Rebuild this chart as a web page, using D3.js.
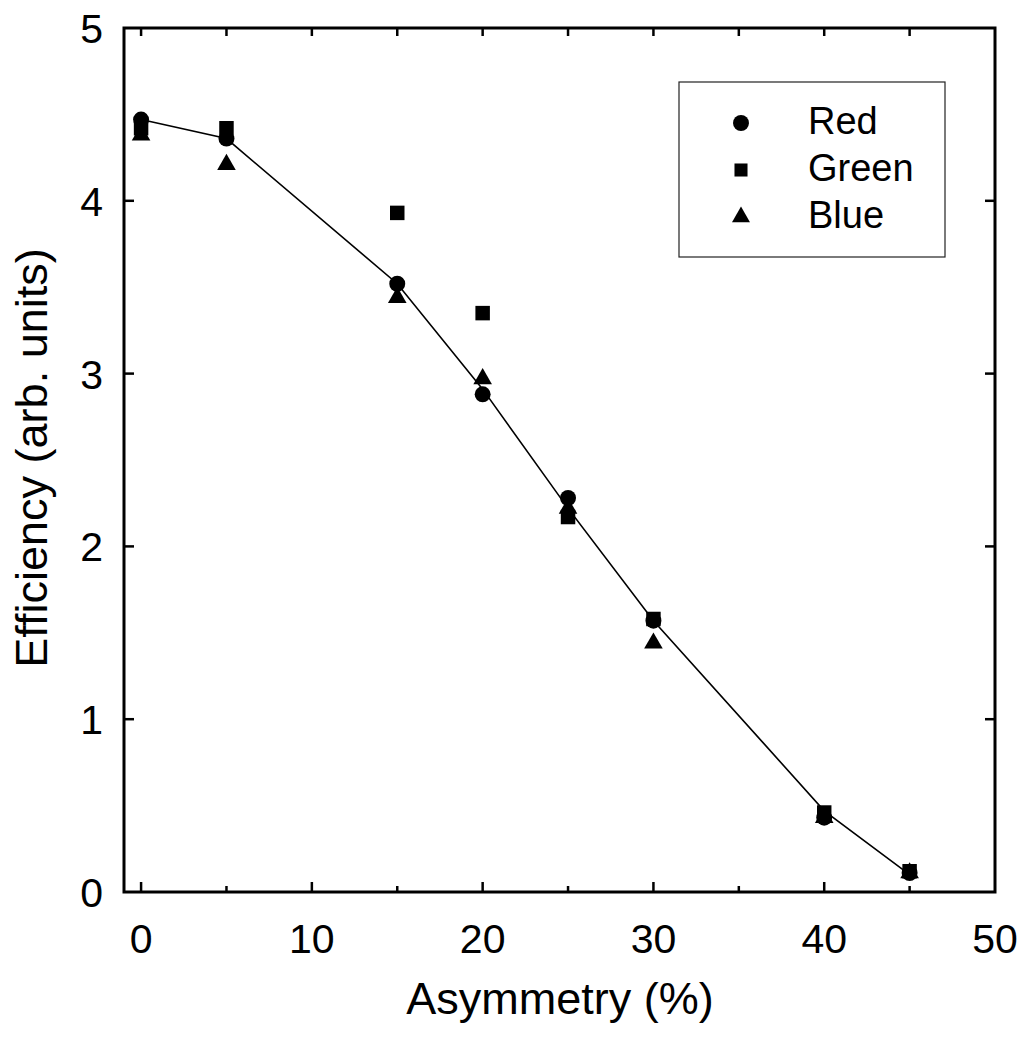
<!DOCTYPE html>
<html>
<head>
<meta charset="utf-8">
<script src="https://cdn.jsdelivr.net/npm/d3@7"></script>
<style>
  body { margin: 0; background: #fff; }
  svg { display: block; font-family: "Liberation Sans", Arial, sans-serif; }
</style>
</head>
<body>
<script>
// data
const asymmetry = [0, 5, 15, 20, 25, 30, 40, 45];
const red   = [4.47, 4.36, 3.52, 2.88, 2.28, 1.57, 0.43, 0.11];
const green = [4.42, 4.42, 3.93, 3.35, 2.17, 1.58, 0.46, 0.12];
const blue  = [4.38, 4.21, 3.44, 2.97, 2.22, 1.44, 0.43, 0.11];
const fitLine = [4.47, 4.36, 3.52, 2.91, 2.22, 1.57, 0.47, 0.10];
const seriesNames = ["Red", "Green", "Blue"];
const xTicks = [0, 10, 20, 30, 40, 50];
const xMinorTicks = [5, 15, 25, 35, 45];
const yTicks = [0, 1, 2, 3, 4, 5];

const width = 1024, height = 1041;
const margin = {top: 28, right: 29, bottom: 149, left: 124};

const svg = d3.select("body").append("svg")
    .attr("width", width)
    .attr("height", height);

const x = d3.scaleLinear().domain([-1, 50]).range([margin.left, width - margin.right]);
const y = d3.scaleLinear().domain([0, 5]).range([height - margin.bottom, margin.top]);

const x0 = x.range()[0], x1 = x.range()[1];
const y0 = y.range()[0], y1 = y.range()[1];

// ticks (inside, on all four sides)
const ticks = svg.append("g").attr("stroke", "#000").attr("stroke-width", 2.5);
xTicks.filter(d => d < 50).forEach(d => {
  ticks.append("line").attr("x1", x(d)).attr("x2", x(d)).attr("y1", y0).attr("y2", y0 - 10);
  ticks.append("line").attr("x1", x(d)).attr("x2", x(d)).attr("y1", y1).attr("y2", y1 + 8);
});
xMinorTicks.forEach(d => {
  ticks.append("line").attr("x1", x(d)).attr("x2", x(d)).attr("y1", y0).attr("y2", y0 - 6);
  ticks.append("line").attr("x1", x(d)).attr("x2", x(d)).attr("y1", y1).attr("y2", y1 + 8);
});
yTicks.filter(d => d > 0 && d < 5).forEach(d => {
  ticks.append("line").attr("x1", x0).attr("x2", x0 + 10).attr("y1", y(d)).attr("y2", y(d));
  ticks.append("line").attr("x1", x1).attr("x2", x1 - 10).attr("y1", y(d)).attr("y2", y(d));
});

// frame
svg.append("rect")
    .attr("x", x0).attr("y", y1)
    .attr("width", x1 - x0).attr("height", y0 - y1)
    .attr("fill", "none").attr("stroke", "#000").attr("stroke-width", 3);

// tick labels
svg.append("g").selectAll("text").data(xTicks).join("text")
    .attr("x", d => x(d)).attr("y", y0 + 61)
    .attr("text-anchor", "middle").attr("font-size", 41)
    .text(d => d);
svg.append("g").selectAll("text").data(yTicks).join("text")
    .attr("x", x0 - 21).attr("y", d => y(d) + 15)
    .attr("text-anchor", "end").attr("font-size", 41)
    .text(d => d);

// axis titles
svg.append("text")
    .attr("x", 560).attr("y", 1014)
    .attr("text-anchor", "middle").attr("font-size", 45)
    .text("Asymmetry (%)");
svg.append("text")
    .attr("transform", "translate(47,458) rotate(-90)")
    .attr("text-anchor", "middle").attr("font-size", 45)
    .text("Efficiency (arb. units)");

// line
const line = d3.line().x((d, i) => x(asymmetry[i])).y(d => y(d));
svg.append("path")
    .datum(fitLine)
    .attr("d", line)
    .attr("fill", "none").attr("stroke", "#000").attr("stroke-width", 1.6);

// markers
const symbols = [d3.symbolCircle, d3.symbolSquare, d3.symbolTriangle];
const sizes = [200, 210, 150];
const allSeries = [red, green, blue];
allSeries.forEach((vals, s) => {
  const sym = d3.symbol().type(symbols[s]).size(sizes[s]);
  svg.append("g").selectAll("path").data(vals).join("path")
      .attr("transform", (d, i) => `translate(${x(asymmetry[i])},${y(d)})`)
      .attr("d", sym)
      .attr("fill", "#000");
});

// legend
const legend = svg.append("g");
legend.append("rect")
    .attr("x", 679).attr("y", 82).attr("width", 266).attr("height", 175)
    .attr("fill", "#fff").attr("stroke", "#222").attr("stroke-width", 1.2);
const legendSizes = [200, 170, 140];
const legendY = [123, 170, 217];
seriesNames.forEach((name, s) => {
  legend.append("path")
      .attr("transform", `translate(741,${legendY[s]})`)
      .attr("d", d3.symbol().type(symbols[s]).size(legendSizes[s]))
      .attr("fill", "#000");
  legend.append("text")
      .attr("x", 808).attr("y", legendY[s] + 11)
      .attr("font-size", 38)
      .text(name);
});
</script>
</body>
</html>
